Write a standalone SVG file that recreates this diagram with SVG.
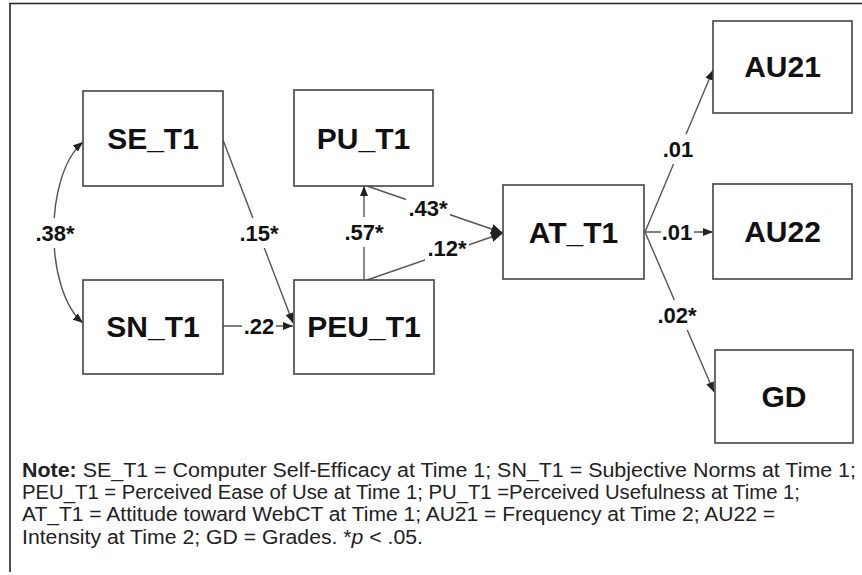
<svg xmlns="http://www.w3.org/2000/svg" width="862" height="575" viewBox="0 0 862 575">
<defs>
<marker id="arr" viewBox="0 0 10 8" refX="10" refY="4" markerWidth="10" markerHeight="8" markerUnits="userSpaceOnUse" orient="auto-start-reverse">
<path d="M0,0 L10,4 L0,8 z" fill="#222"/>
</marker>
<marker id="arrL" viewBox="0 0 12 10" refX="12" refY="5" markerWidth="12" markerHeight="10" markerUnits="userSpaceOnUse" orient="auto">
<path d="M0,0 L12,5 L0,10 z" fill="#222"/>
</marker>
</defs>
<style>
.box{fill:#fff;stroke:#444;stroke-width:1.6}
.nl{font-family:"Liberation Sans",Arial,sans-serif;font-weight:bold;font-size:30px;fill:#111;text-anchor:middle}
.edge{fill:none;stroke:#555;stroke-width:1.4}
.el{font-family:"Liberation Sans",Arial,sans-serif;font-weight:bold;font-size:22px;fill:#111;text-anchor:middle}
.bg{fill:#fff}
.note{font-family:"Liberation Sans",Arial,sans-serif;font-size:20px;fill:#222}
.frame{stroke:#222;stroke-width:1.6;fill:none}
</style>
<rect width="862" height="575" fill="#fff"/>
<path class="frame" d="M10,572 L10,3.5 L862,3.5"/>

<g id="connectors">
<path class="edge" d="M83,142 C44,175 44,290 83,323" marker-start="url(#arr)" marker-end="url(#arr)"/>
<line class="edge" x1="223" y1="140" x2="293" y2="323" marker-end="url(#arr)"/>
<line class="edge" x1="223" y1="326" x2="293" y2="326" marker-end="url(#arr)"/>
<line class="edge" x1="364" y1="280" x2="364" y2="186" marker-end="url(#arr)"/>
<line class="edge" x1="367" y1="186" x2="503" y2="233" marker-end="url(#arrL)"/>
<line class="edge" x1="367" y1="280" x2="503" y2="233" marker-end="url(#arrL)"/>
<line class="edge" x1="645" y1="232" x2="713" y2="70" marker-end="url(#arr)"/>
<line class="edge" x1="645" y1="232" x2="713" y2="232" marker-end="url(#arr)"/>
<line class="edge" x1="645" y1="232" x2="714" y2="392" marker-end="url(#arr)"/>

<rect class="bg" x="33" y="218" width="44" height="30"/>
<text class="el" x="55" y="241">.38*</text>
<rect class="bg" x="237" y="218" width="44" height="30"/>
<text class="el" x="259" y="241">.15*</text>
<rect class="bg" x="242" y="313" width="34" height="27"/>
<text class="el" x="259" y="334">.22</text>
<rect class="bg" x="342" y="217" width="44" height="30"/>
<text class="el" x="364" y="240">.57*</text>
<rect class="bg" x="406" y="193" width="44" height="30"/>
<text class="el" x="428" y="216">.43*</text>
<rect class="bg" x="425" y="233" width="44" height="30"/>
<text class="el" x="447" y="256">.12*</text>
<rect class="bg" x="661" y="134" width="34" height="30"/>
<text class="el" x="678" y="157">.01</text>
<rect class="bg" x="661" y="218" width="33" height="27"/>
<text class="el" x="677" y="240">.01</text>
<rect class="bg" x="655" y="300" width="44" height="30"/>
<text class="el" x="677" y="323">.02*</text>
</g>

<g id="SE_T1"><rect class="box" x="83" y="91" width="140" height="95"/><text class="nl" x="153" y="149">SE_T1</text></g>
<g id="SN_T1"><rect class="box" x="83" y="280" width="140" height="94"/><text class="nl" x="153" y="337">SN_T1</text></g>
<g id="PU_T1"><rect class="box" x="294" y="90" width="139" height="96"/><text class="nl" x="363.5" y="149">PU_T1</text></g>
<g id="PEU_T1"><rect class="box" x="294" y="280" width="140" height="94"/><text class="nl" x="364" y="337">PEU_T1</text></g>
<g id="AT_T1"><rect class="box" x="503" y="185" width="141" height="94"/><text class="nl" x="573.5" y="243">AT_T1</text></g>
<g id="AU21"><rect class="box" x="713" y="21" width="139" height="92"/><text class="nl" x="782.5" y="77">AU21</text></g>
<g id="AU22"><rect class="box" x="713" y="184" width="139" height="95"/><text class="nl" x="782.5" y="242">AU22</text></g>
<g id="GD"><rect class="box" x="715" y="350" width="138" height="93"/><text class="nl" x="784" y="407">GD</text></g>

<g id="note" class="note">
<text x="22" y="477" textLength="834" lengthAdjust="spacingAndGlyphs"><tspan font-weight="bold">Note:</tspan>  SE_T1 = Computer Self-Efficacy at Time 1; SN_T1 = Subjective Norms at Time 1;</text>
<text x="22" y="499" textLength="778" lengthAdjust="spacingAndGlyphs">PEU_T1 = Perceived Ease of Use at Time 1; PU_T1 =Perceived Usefulness at Time 1;</text>
<text x="22" y="521" textLength="753" lengthAdjust="spacingAndGlyphs">AT_T1 = Attitude toward WebCT at Time 1; AU21 = Frequency at Time 2; AU22 =</text>
<text x="22" y="544" textLength="401" lengthAdjust="spacingAndGlyphs">Intensity at Time 2; GD = Grades. *<tspan font-style="italic">p</tspan> &lt; .05.</text>
</g>
</svg>
